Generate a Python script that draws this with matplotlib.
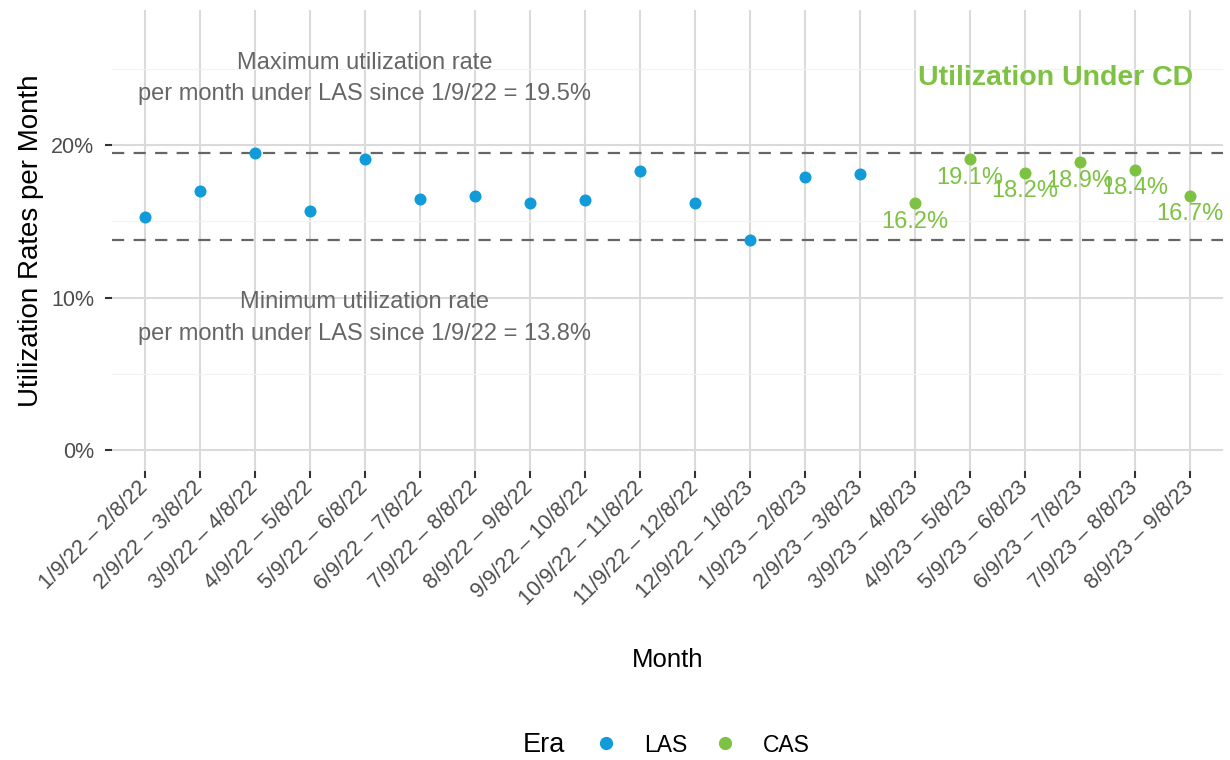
import numpy as np
import matplotlib.pyplot as plt
from matplotlib.lines import Line2D
from matplotlib.ticker import FuncFormatter, MultipleLocator

plt.rcParams['font.family'] = ['Liberation Sans', 'DejaVu Sans']

months = ["1/9/22 – 2/8/22", "2/9/22 – 3/8/22", "3/9/22 – 4/8/22", "4/9/22 – 5/8/22",
          "5/9/22 – 6/8/22", "6/9/22 – 7/8/22", "7/9/22 – 8/8/22", "8/9/22 – 9/8/22",
          "9/9/22 – 10/8/22", "10/9/22 – 11/8/22", "11/9/22 – 12/8/22", "12/9/22 – 1/8/23",
          "1/9/23 – 2/8/23", "2/9/23 – 3/8/23", "3/9/23 – 4/8/23", "4/9/23 – 5/8/23",
          "5/9/23 – 6/8/23", "6/9/23 – 7/8/23", "7/9/23 – 8/8/23", "8/9/23 – 9/8/23"]
las_rate = [15.3, 17.0, 19.5, 15.7, 19.1, 16.5, 16.7, 16.2, 16.4, 18.3, 16.2, 13.8, 17.9, 18.1]
cas_rate = [16.2, 19.1, 18.2, 18.9, 18.4, 16.7]
las_max = 19.5
las_min = 13.8

blue = "#119bd8"
green = "#7dc242"
grey = "#666666"

fig = plt.figure(figsize=(12.3, 7.6), dpi=100)
ax = fig.add_axes([112 / 1230, 1 - 471 / 760, (1223 - 112) / 1230, (471 - 10) / 760])

x_las = np.arange(len(las_rate))
x_cas = np.arange(len(las_rate), len(months))

# reference lines for LAS max / min
ax.axhline(las_max, color=grey, lw=1.6, ls=(0, (5.5, 4.2)), zorder=2)
ax.axhline(las_min, color=grey, lw=1.6, ls=(0, (5.5, 4.2)), zorder=2)

ax.scatter(x_las, las_rate, s=75, color=blue, zorder=3, linewidths=0)
ax.scatter(x_cas, cas_rate, s=75, color=green, zorder=3, linewidths=0)
for x, v in zip(x_cas, cas_rate):
    ax.annotate(f"{v:.1f}%", (x, v), xytext=(0, -13.5), textcoords="offset points",
                ha="center", va="center", color=green, fontsize=17)

ax.text(4, 24.4, "Maximum utilization rate\nper month under LAS since 1/9/22 = 19.5%",
        ha="center", va="center", color=grey, fontsize=17, linespacing=1.55)
ax.text(4, 8.66, "Minimum utilization rate\nper month under LAS since 1/9/22 = 13.8%",
        ha="center", va="center", color=grey, fontsize=17, linespacing=1.55)
ax.text(19.05, 24.4, "Utilization Under CD", ha="right", va="center", color=green,
        fontsize=20.5, fontweight="bold")

ax.set_xlim(-0.6, 19.6)
ax.set_ylim(-1.375, 28.875)
ax.set_xticks(np.arange(len(months)))
ax.set_xticklabels(months, rotation=45, ha="right", va="center", rotation_mode="anchor")
ax.yaxis.set_major_locator(MultipleLocator(10))
ax.yaxis.set_minor_locator(MultipleLocator(5))
ax.yaxis.set_major_formatter(FuncFormatter(lambda v, p: f"{v:.0f}%"))

ax.grid(axis="x", which="major", color="#dadada", lw=1.5)
ax.grid(axis="y", which="major", color="#dadada", lw=1.5)
ax.grid(axis="y", which="minor", color="#f2f2f2", lw=0.8)
ax.set_axisbelow(True)
for s in ax.spines.values():
    s.set_visible(False)
ax.tick_params(axis="both", which="major", length=5, width=1.5, color="#333333",
               labelsize=15.5, labelcolor="#4d4d4d")
ax.tick_params(axis="y", which="minor", length=0)
ax.tick_params(axis="y", pad=8)
ax.tick_params(axis="x", pad=5)

ax.set_xlabel("Month", fontsize=18.5)
ax.xaxis.set_label_coords(0.5, (471 - 660) / 461)
ax.xaxis.label.set_va("center")
ax.set_ylabel("Utilization Rates per Month", fontsize=20)
ax.yaxis.set_label_coords((31 - 112) / 1111, 0.5)
ax.yaxis.label.set_va("center")

handles = [Line2D([], [], marker="o", ls="", color=blue, markersize=8.5),
           Line2D([], [], marker="o", ls="", color=green, markersize=8.5)]
fig.text(523 / 1230, 1 - 745 / 760, "Era", fontsize=19.5, va="center", ha="left")
fig.legend(handles, ["LAS", "CAS"], loc="center", bbox_to_anchor=(702 / 1230, 1 - 745 / 760),
           ncol=2, frameon=False, fontsize=16.5, handletextpad=1.16, columnspacing=1.16,
           handlelength=1.0, borderpad=0, borderaxespad=0)

fig.savefig("out.png", dpi=100)
